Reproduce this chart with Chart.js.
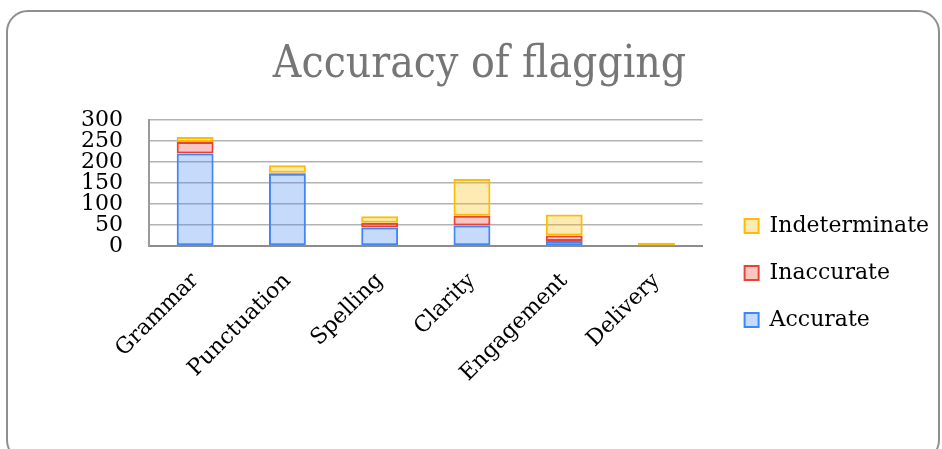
<!DOCTYPE html>
<html>
<head>
<meta charset="utf-8">
<script src="https://cdn.jsdelivr.net/npm/chart.js@4/dist/chart.umd.min.js"></script>
<style>
  html, body { margin: 0; padding: 0; background: #fff; overflow: hidden; }
  .wrap { position: relative; width: 942px; height: 449px; }
  .frame {
    position: absolute; left: 6px; top: 10px; width: 930px; height: 448px;
    border: 2px solid #8f8f8f; border-radius: 22px; pointer-events: none;
  }
  canvas { position: absolute; left: 0; top: 0; }
</style>
</head>
<body>
<div class="wrap">
  <canvas id="chart" width="942" height="449"></canvas>
  <div class="frame"></div>
</div>
<script>
const categories = ['Grammar', 'Punctuation', 'Spelling', 'Clarity', 'Engagement', 'Delivery'];
const accurate = [220, 172, 44, 49, 12, 1];
const inaccurate = [27, 2, 11, 23, 13, 0];
const indeterminate = [12, 18, 16, 87, 50, 7];
const yTicks = [0, 50, 100, 150, 200, 250, 300];

const serif = "'DejaVu Serif', 'Liberation Serif', serif";

function series(label, data, rgb) {
  return {
    label: label,
    data: data,
    backgroundColor: `rgba(${rgb}, 0.3)`,
    borderColor: `rgb(${rgb})`,
    borderWidth: 2,
    borderSkipped: false,
    categoryPercentage: 1,
    barPercentage: 0.4
  };
}

new Chart(document.getElementById('chart'), {
  type: 'bar',
  data: {
    labels: categories,
    datasets: [
      series('Accurate', accurate, '66, 133, 244'),
      series('Inaccurate', inaccurate, '234, 67, 53'),
      series('Indeterminate', indeterminate, '251, 188, 4')
    ]
  },
  options: {
    responsive: false,
    animation: false,
    layout: { padding: { left: 20, right: 3, top: 0, bottom: 22 } },
    scales: {
      x: {
        stacked: true,
        grid: { display: false },
        border: { display: true, color: '#8c8c8c', width: 2 },
        ticks: {
          font: { family: serif, size: 22 },
          color: '#000',
          minRotation: 45,
          maxRotation: 45,
          padding: 14
        },
        afterFit: s => { s.height = 181; }
      },
      y: {
        stacked: true,
        min: yTicks[0],
        max: yTicks[yTicks.length - 1],
        afterBuildTicks: s => { s.ticks = yTicks.map(v => ({ value: v })); },
        grid: { color: '#b3b3b3', lineWidth: 1.5, drawTicks: false },
        border: { display: true, color: '#9a9a9a', width: 2 },
        ticks: {
          font: { family: serif, size: 22, lineHeight: 1 },
          color: '#000',
          padding: 26,
          autoSkip: false
        },
        afterFit: s => { s.width = 129; }
      },
      // hidden spacer between plot and legend
      gap: {
        axis: 'y',
        position: 'right',
        display: false,
        afterFit: s => { s.width = 17; }
      }
    },
    plugins: {
      title: {
        display: true,
        text: 'Accuracy of flagging',
        color: '#767676',
        font: { family: "'DejaVu Serif Condensed', 'Liberation Serif', serif", size: 44, weight: 'normal' },
        padding: { top: 39, bottom: 28 }
      },
      legend: {
        position: 'right',
        align: 'start',
        reverse: true,
        // empty title only pushes the items down
        title: { display: true, text: ' ', font: { size: 10, lineHeight: 1 }, padding: { top: 180, bottom: 0 } },
        labels: {
          font: { family: serif, size: 22 },
          color: '#000',
          boxWidth: 14,
          boxHeight: 14,
          padding: 25
        }
      },
      tooltip: { enabled: false }
    }
  }
});
</script>
</body>
</html>
